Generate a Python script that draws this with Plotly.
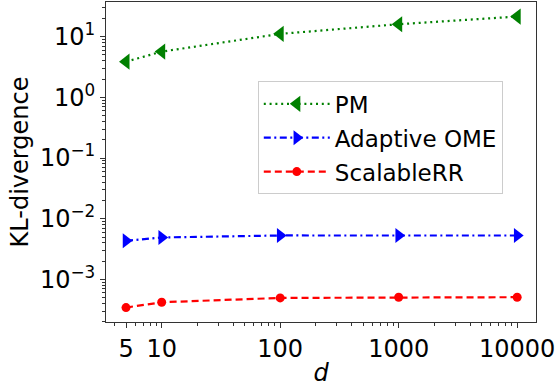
import plotly.graph_objects as go

# Dimension d (x) and KL-divergence of each mechanism (y)
d_values = [5, 10, 100, 1000, 10000]
pm_kl = [3.87, 5.66, 11.1, 16.0, 21.4]
adaptive_ome_kl = [0.00434, 0.00492, 0.00531, 0.00531, 0.00530]
scalable_rr_kl = [0.000345, 0.000422, 0.000497, 0.000511, 0.000511]

x_tick_vals = [5, 10, 100, 1000, 10000]
x_tick_text = ["5", "10", "100", "1000", "10000"]
y_tick_vals = [1e-3, 1e-2, 1e-1, 1e0, 1e1]
y_tick_text = ["10<sup>\u22123</sup>", "10<sup>\u22122</sup>", "10<sup>\u22121</sup>",
               "10<sup>0</sup>", "10<sup>1</sup>"]

FONT = "DejaVu Sans"

fig = go.Figure()
fig.add_trace(go.Scatter(
    x=d_values, y=pm_kl, name="PM", mode="lines+markers", legendgroup="a",
    line=dict(color="#008000", width=2.2, dash="2px,3.8px"),
    marker=dict(symbol="triangle-left", size=14, color="#008000"),
))
fig.add_trace(go.Scatter(
    x=d_values, y=adaptive_ome_kl, name="Adaptive OME", mode="lines+markers", legendgroup="b",
    line=dict(color="#0000ff", width=2.2, dash="7px,3.5px,2px,3.5px"),
    marker=dict(symbol="triangle-right", size=13, color="#0000ff"),
))
fig.add_trace(go.Scatter(
    x=d_values, y=scalable_rr_kl, name="ScalableRR", mode="lines+markers", legendgroup="c",
    line=dict(color="#ff0000", width=2.2, dash="7px,4px"),
    marker=dict(symbol="circle", size=9, color="#ff0000"),
))

minor_x = [m * 10 ** k for k in range(0, 5) for m in range(2, 10)]
minor_y = [m * 10 ** k for k in range(-4, 2) for m in range(2, 10)]

axis_common = dict(
    showline=True, linecolor="#333333", linewidth=1, mirror=True,
    showgrid=False, zeroline=False,
    ticks="outside", ticklen=5, tickwidth=1, tickcolor="#333333",
    tickfont=dict(family=FONT, size=24, color="black"),
)

fig.update_layout(
    width=559, height=387,
    margin=dict(l=106, r=23, t=2, b=65),
    paper_bgcolor="white", plot_bgcolor="white",
    font=dict(family=FONT, color="black"),
    xaxis=dict(
        type="log", range=[0.530, 4.159],
        tickmode="array", tickvals=x_tick_vals, ticktext=x_tick_text,
        minor=dict(tickmode="array", tickvals=minor_x, ticks="outside",
                   ticklen=3, tickwidth=1, tickcolor="#333333"),
        title=dict(text="<i>d</i>", font=dict(family=FONT, size=24), standoff=2),
        **axis_common,
    ),
    yaxis=dict(
        type="log", range=[-3.70, 1.57],
        tickmode="array", tickvals=y_tick_vals, ticktext=y_tick_text,
        minor=dict(tickmode="array", tickvals=minor_y, ticks="outside",
                   ticklen=3, tickwidth=1, tickcolor="#333333"),
        title=dict(text="KL-divergence", font=dict(family=FONT, size=24), standoff=4),
        **axis_common,
    ),
    legend=dict(
        x=0.353, y=0.752, xanchor="left", yanchor="top",
        bgcolor="rgba(255,255,255,0.8)", bordercolor="#cccccc", borderwidth=1,
        font=dict(family=FONT, size=23, color="black"),
        traceorder="grouped", tracegroupgap=1, itemwidth=66,
    ),
    showlegend=True,
)

fig.write_html("out.html")
